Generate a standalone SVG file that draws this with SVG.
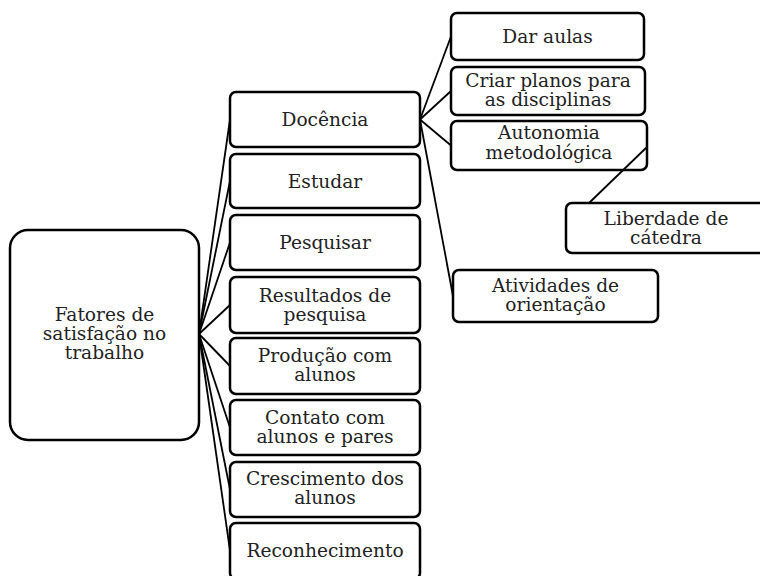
<svg xmlns="http://www.w3.org/2000/svg" width="760" height="576" viewBox="0 0 760 576">
<style>
.box{fill:#fff;stroke:#000;stroke-width:2.5}
.t{font-family:"DejaVu Serif","Liberation Serif",serif;font-size:18.6px;fill:#222;text-anchor:middle}
.c{stroke:#000;stroke-width:1.8;fill:none}
</style>
<rect width="760" height="576" fill="#fff"/>
<g id="root"><rect class="box" x="10" y="230" width="189" height="210" rx="18"/>
<text class="t" x="104.5" y="321">Fatores de</text><text class="t" x="104.5" y="340">satisfação no</text><text class="t" x="104.5" y="359">trabalho</text></g>
<g id="docencia"><rect class="box" x="230" y="92" width="190" height="55" rx="6"/><text class="t" x="325" y="126">Docência</text></g>
<g id="estudar"><rect class="box" x="230" y="154" width="190" height="54" rx="6"/><text class="t" x="325" y="187.5">Estudar</text></g>
<g id="pesquisar"><rect class="box" x="230" y="215" width="190" height="55" rx="6"/><text class="t" x="325" y="249">Pesquisar</text></g>
<g id="resultados"><rect class="box" x="230" y="277" width="190" height="56" rx="6"/><text class="t" x="325" y="302">Resultados de</text><text class="t" x="325" y="321">pesquisa</text></g>
<g id="producao"><rect class="box" x="230" y="338" width="190" height="56" rx="6"/><text class="t" x="325" y="362">Produção com</text><text class="t" x="325" y="381">alunos</text></g>
<g id="contato"><rect class="box" x="230" y="400" width="190" height="55" rx="6"/><text class="t" x="325" y="424">Contato com</text><text class="t" x="325" y="443">alunos e pares</text></g>
<g id="crescimento"><rect class="box" x="230" y="462" width="190" height="55" rx="6"/><text class="t" x="325" y="485">Crescimento dos</text><text class="t" x="325" y="504">alunos</text></g>
<g id="reconhecimento"><rect class="box" x="230" y="523" width="190" height="56" rx="6"/><text class="t" x="325" y="557">Reconhecimento</text></g>
<g id="dar-aulas"><rect class="box" x="451" y="13" width="193" height="47" rx="6"/><text class="t" x="547.5" y="43">Dar aulas</text></g>
<g id="criar-planos"><rect class="box" x="451" y="67" width="194" height="48" rx="6"/><text class="t" x="548" y="87">Criar planos para</text><text class="t" x="548" y="106">as disciplinas</text></g>
<g id="autonomia"><rect class="box" x="451" y="121" width="196" height="49" rx="6"/><text class="t" x="549" y="139">Autonomia</text><text class="t" x="549" y="159">metodológica</text></g>
<g id="liberdade"><rect class="box" x="566" y="203" width="200" height="50" rx="6"/><text class="t" x="666" y="225">Liberdade de</text><text class="t" x="666" y="244">cátedra</text></g>
<g id="atividades"><rect class="box" x="453" y="270" width="205" height="52" rx="6"/><text class="t" x="555.5" y="292">Atividades de</text><text class="t" x="555.5" y="311">orientação</text></g>
<g id="connectors">
<line class="c" x1="199" y1="334" x2="230" y2="119.5"/>
<line class="c" x1="199" y1="334" x2="230" y2="181"/>
<line class="c" x1="199" y1="334" x2="230" y2="242.5"/>
<line class="c" x1="199" y1="334" x2="230" y2="305"/>
<line class="c" x1="199" y1="334" x2="230" y2="366"/>
<line class="c" x1="199" y1="334" x2="230" y2="427.5"/>
<line class="c" x1="199" y1="334" x2="230" y2="489.5"/>
<line class="c" x1="199" y1="334" x2="230" y2="550.5"/>
<line class="c" x1="420" y1="119.5" x2="451" y2="36.5"/>
<line class="c" x1="420" y1="119.5" x2="451" y2="91"/>
<line class="c" x1="420" y1="119.5" x2="451" y2="145.5"/>
<line class="c" x1="420" y1="119.5" x2="453" y2="296"/>
<line class="c" x1="647" y1="147" x2="589" y2="203"/>
</g>
</svg>
